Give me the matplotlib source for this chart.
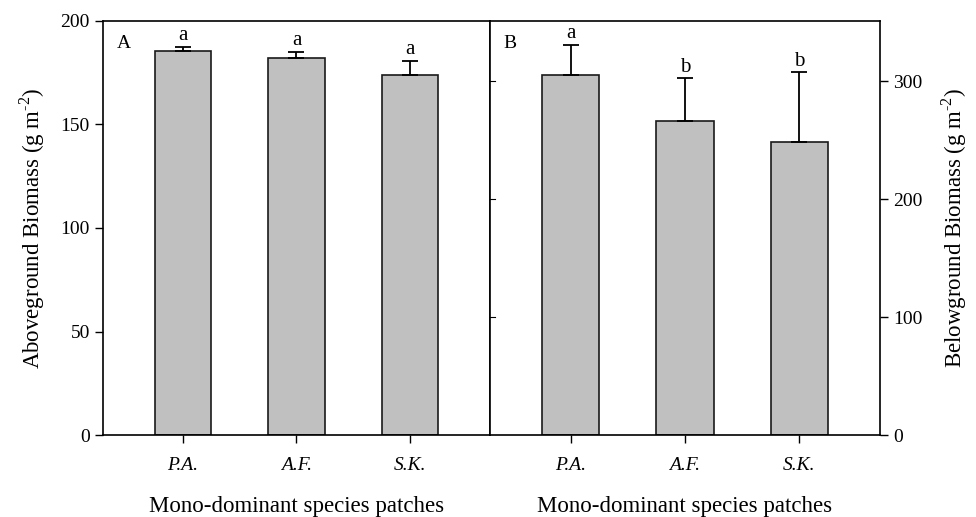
import matplotlib
matplotlib.use("Agg")
import matplotlib.pyplot as plt
import numpy as np

plt.rcParams['font.family'] = ['Liberation Serif', 'DejaVu Serif']
plt.rcParams['mathtext.fontset'] = 'custom'
plt.rcParams['mathtext.rm'] = 'Liberation Serif'

species = ["P.A.", "A.F.", "S.K."]

above_mean = [185.3, 182.2, 174.0]
above_err = [2.2, 3.0, 6.8]
above_letters = ["a", "a", "a"]

below_mean = [305.0, 266.5, 248.5]
below_err = [26.0, 36.0, 59.0]
below_letters = ["a", "b", "b"]

bar_color = "#c0c0c0"
x = np.arange(1, len(species) + 1)

fig = plt.figure(figsize=(9.76, 5.17), dpi=100)
axA = fig.add_axes([0.1055, 0.1586, 0.3965, 0.8008])
axB = fig.add_axes([0.502, 0.1586, 0.3996, 0.8008])


def draw_panel(ax, means, errs, letters):
    ax.bar(x, means, width=0.5, color=bar_color, edgecolor="#1a1a1a", linewidth=1.2, zorder=2)
    ax.errorbar(x, means, yerr=[np.zeros(len(errs)), errs], fmt="none", ecolor="black",
                elinewidth=1.3, capsize=6, capthick=1.3, zorder=3)
    for xi, m, e, lab in zip(x, means, errs, letters):
        ax.annotate(lab, (xi, m + e), xytext=(0, 1), textcoords="offset points",
                    ha="center", va="bottom", fontsize=15)
    ax.set_xlim(0.295, 3.705)
    ax.set_xticks(x)
    ax.set_xticklabels(species, fontstyle="italic", fontsize=14)
    ax.tick_params(axis="x", direction="out", length=6, width=1, pad=10)
    ax.set_xlabel("Mono-dominant species patches", fontsize=16.5)
    ax.xaxis.set_label_coords(0.5, -0.148)
    for sp in ax.spines.values():
        sp.set_linewidth(1.2)


draw_panel(axA, above_mean, above_err, above_letters)
axA.set_ylim(0, 200)
axA.set_yticks([0, 50, 100, 150, 200])
axA.tick_params(axis="y", direction="out", length=6, width=1, labelsize=14)
axA.set_ylabel(r"Aboveground Biomass (g m$^{\text{-2}}$)", fontsize=16.5, labelpad=10)
axA.text(0.035, 0.945, "A", transform=axA.transAxes, fontsize=14, va="center", ha="left")

draw_panel(axB, below_mean, below_err, below_letters)
axB.set_ylim(0, 351)
axB.set_yticks([0, 100, 200, 300])
axB.yaxis.tick_right()
axB.yaxis.set_label_position("right")
axB.tick_params(axis="y", direction="out", length=6, width=1, labelsize=14, right=True, left=False)
axB.set_ylabel(r"Belowground Biomass (g m$^{\text{-2}}$)", fontsize=16.5, labelpad=12)
axB.text(0.035, 0.945, "B", transform=axB.transAxes, fontsize=14, va="center", ha="left")

# short inward ticks on the shared border
for yv in [100, 200, 300]:
    axB.plot([0.295, 0.295 + 0.04], [yv, yv], color="black", lw=0.8, zorder=4, clip_on=False)

fig.savefig("out.png", dpi=100)
